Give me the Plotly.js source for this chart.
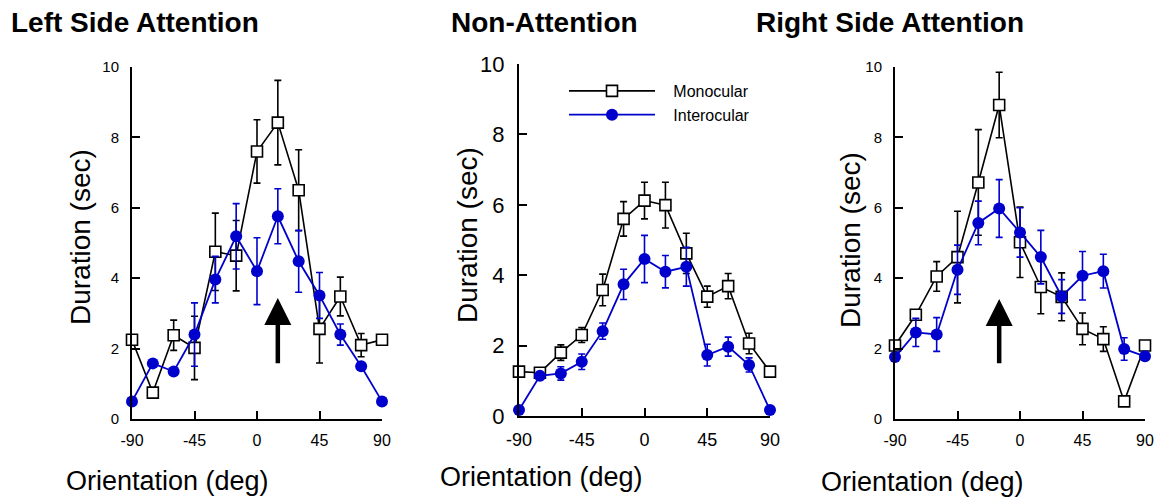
<!DOCTYPE html>
<html><head><meta charset="utf-8">
<script src="https://cdn.plot.ly/plotly-3.0.1.min.js"></script>
<style>html,body{margin:0;padding:0;background:#fff}#chart{width:1156px;height:499px}</style>
</head><body><div id="chart"></div>
<script>
// ---- data ----
const orientation = [-90,-75,-60,-45,-30,-15,0,15,30,45,60,75,90];
const xTickVals = [-90,-45,0,45,90];
const xTickText = ['-90','-45','0','45','90'];
const yTickVals = [0,2,4,6,8,10];
const yTickText = ['0','2','4','6','8','10'];
const panelTitles = ['Left Side Attention','Non-Attention','Right Side Attention'];
const seriesNames = ['Monocular','Interocular'];
const xTitleText = 'Orientation (deg)';
const yTitleText = 'Duration (sec)';

const leftMono      = [2.25,0.75,2.38,2.02,4.75,4.64,7.60,8.42,6.50,2.56,3.48,2.10,2.25];
const leftMonoErr   = [0,0.12,0.43,0.90,1.10,1.00,0.90,1.20,1.15,0.97,0.55,0.33,0];
const leftInter     = [0.50,1.58,1.35,2.40,3.96,5.19,4.20,5.76,4.48,3.51,2.40,1.50,0.50];
const leftInterErr  = [0,0,0,0.90,0.66,0.93,0.95,0.78,0.88,0.65,0.30,0,0];

const nonMono       = [1.26,1.23,1.80,2.30,3.58,5.60,6.12,5.99,4.62,3.39,3.69,2.06,1.26];
const nonMonoErr    = [0,0.08,0.22,0.21,0.45,0.49,0.52,0.65,0.57,0.30,0.36,0.29,0];
const nonInter      = [0.17,1.14,1.21,1.54,2.41,3.74,4.46,4.10,4.24,1.73,1.97,1.45,0.17];
const nonInterErr   = [0,0.10,0.19,0.22,0.23,0.43,0.67,0.46,0.55,0.31,0.27,0.20,0];

const rightMono     = [2.09,2.96,4.05,4.60,6.72,8.92,5.02,3.75,3.47,2.56,2.27,0.50,2.09];
const rightMonoErr  = [0,0,0.42,1.30,1.50,0.93,1.00,0.76,0.68,0.45,0.35,0,0];
const rightInter    = [1.76,2.46,2.40,4.24,5.57,5.98,5.30,4.60,3.48,4.07,4.20,1.99,1.78];
const rightInterErr = [0,0.40,0.48,0.70,0.62,0.82,0.70,0.76,0.48,0.69,0.48,0.32,0];

// attention arrows: [orientation, tail value, tip value]
const leftArrow  = [15, 1.54, 3.44];
const rightArrow = [-15, 1.54, 3.41];

// ---- styling ----
const W = 1156, H = 499;
const px = p => p / W;
const py = p => 1 - p / H;
const FONT = '"Liberation Sans", Arial, Helvetica, sans-serif';
const BLACK = '#000000', BLUE = '#0000cc';
const LEGEND_PAD = '\u00a0\u00a0\u00a0';

const panels = [
  {mono: leftMono, monoErr: leftMonoErr, inter: leftInter, interErr: leftInterErr,
   xd: [132, 382], yd: [419, 67], yFont: 15, xFont: 16, legend: false},
  {mono: nonMono, monoErr: nonMonoErr, inter: nonInter, interErr: nonInterErr,
   xd: [519, 770], yd: [416, 64], yFont: 22, xFont: 18, legend: true},
  {mono: rightMono, monoErr: rightMonoErr, inter: rightInter, interErr: rightInterErr,
   xd: [895, 1145], yd: [419, 67], yFont: 15, xFont: 16, legend: false}
];

const traces = [];
const layout = {
  width: W, height: H,
  margin: {l: 0, r: 0, t: 0, b: 0},
  paper_bgcolor: '#ffffff', plot_bgcolor: '#ffffff',
  font: {family: FONT, color: BLACK},
  showlegend: true,
  legend: {
    x: px(564), y: py(74), xanchor: 'left', yanchor: 'top',
    bgcolor: 'rgba(0,0,0,0)', borderwidth: 0,
    font: {family: FONT, size: 16, color: BLACK},
    itemwidth: 86, tracegroupgap: 0
  },
  annotations: [],
  shapes: []
};

panels.forEach((p, i) => {
  const sfx = i === 0 ? '' : String(i + 1);
  const xa = 'x' + sfx, ya = 'y' + sfx;
  traces.push({
    type: 'scatter', mode: 'lines+markers', x: orientation, y: p.mono,
    name: LEGEND_PAD + seriesNames[0], legendgroup: 'mono', showlegend: p.legend,
    xaxis: xa, yaxis: ya, cliponaxis: false,
    line: {color: BLACK, width: 1.6},
    marker: {symbol: 'square', size: 11, color: '#ffffff', line: {color: BLACK, width: 1.6}},
    error_y: {type: 'data', array: p.monoErr, visible: true, color: BLACK, thickness: 1.6, width: 3.5}
  });
  traces.push({
    type: 'scatter', mode: 'lines+markers', x: orientation, y: p.inter,
    name: LEGEND_PAD + seriesNames[1], legendgroup: 'inter', showlegend: p.legend,
    xaxis: xa, yaxis: ya, cliponaxis: false,
    line: {color: BLUE, width: 1.8},
    marker: {symbol: 'circle', size: 12, color: BLUE, line: {width: 0}},
    error_y: {type: 'data', array: p.interErr, visible: true, color: BLUE, thickness: 1.6, width: 3.5}
  });
  layout['xaxis' + sfx] = {
    domain: [px(p.xd[0]), px(p.xd[1])], anchor: ya,
    range: [-90, 90], tickmode: 'array', tickvals: xTickVals, ticktext: xTickText,
    ticks: 'inside', ticklen: 8, tickwidth: 2, tickcolor: BLACK,
    showline: true, linecolor: BLACK, linewidth: 2,
    showgrid: false, zeroline: false, fixedrange: true,
    ticklabelstandoff: 6,
    tickfont: {family: FONT, size: p.xFont, color: BLACK}
  };
  layout['yaxis' + sfx] = {
    domain: [py(p.yd[0]), py(p.yd[1])], anchor: xa,
    range: [0, 10], tickmode: 'array', tickvals: yTickVals, ticktext: yTickText,
    ticks: 'inside', ticklen: 8, tickwidth: 2, tickcolor: BLACK,
    showline: true, linecolor: BLACK, linewidth: 2,
    showgrid: false, zeroline: false, fixedrange: true,
    ticklabelstandoff: 8,
    tickfont: {family: FONT, size: p.yFont, color: BLACK}
  };
});

// panel titles
const titlePos = [[9, 22], [449, 22], [754, 22]];
panelTitles.forEach((t, i) => {
  layout.annotations.push({
    xref: 'paper', yref: 'paper', x: px(titlePos[i][0]), y: py(titlePos[i][1]),
    xanchor: 'left', yanchor: 'middle', showarrow: false,
    text: '<b>' + t + '</b>', font: {family: FONT, size: 28, color: BLACK}
  });
});
// x titles
const xTitlePos = [[167, 481], [541, 477], [922, 482]];
xTitlePos.forEach(pos => {
  layout.annotations.push({
    xref: 'paper', yref: 'paper', x: px(pos[0]), y: py(pos[1]),
    xanchor: 'center', yanchor: 'middle', showarrow: false,
    text: xTitleText, font: {family: FONT, size: 27, color: BLACK}
  });
});
// y titles
const yTitlePos = [[81, 237], [467, 235], [850, 240]];
yTitlePos.forEach(pos => {
  layout.annotations.push({
    xref: 'paper', yref: 'paper', x: px(pos[0]), y: py(pos[1]),
    xanchor: 'center', yanchor: 'middle', showarrow: false, textangle: -90,
    text: yTitleText, font: {family: FONT, size: 28, color: BLACK}
  });
});
// arrows
[[leftArrow, 'x', 'y'], [rightArrow, 'x3', 'y3']].forEach(([a, xr, yr]) => {
  layout.annotations.push({
    xref: xr, yref: yr, axref: xr, ayref: yr,
    x: a[0], y: a[2], ax: a[0], ay: a[1],
    text: '', showarrow: true, arrowhead: 2, arrowsize: 1.2, arrowwidth: 4.5,
    arrowcolor: BLACK, standoff: 0, startstandoff: 0
  });
});

Plotly.newPlot('chart', traces, layout, {displayModeBar: false, staticPlot: true});
</script>
</body></html>
